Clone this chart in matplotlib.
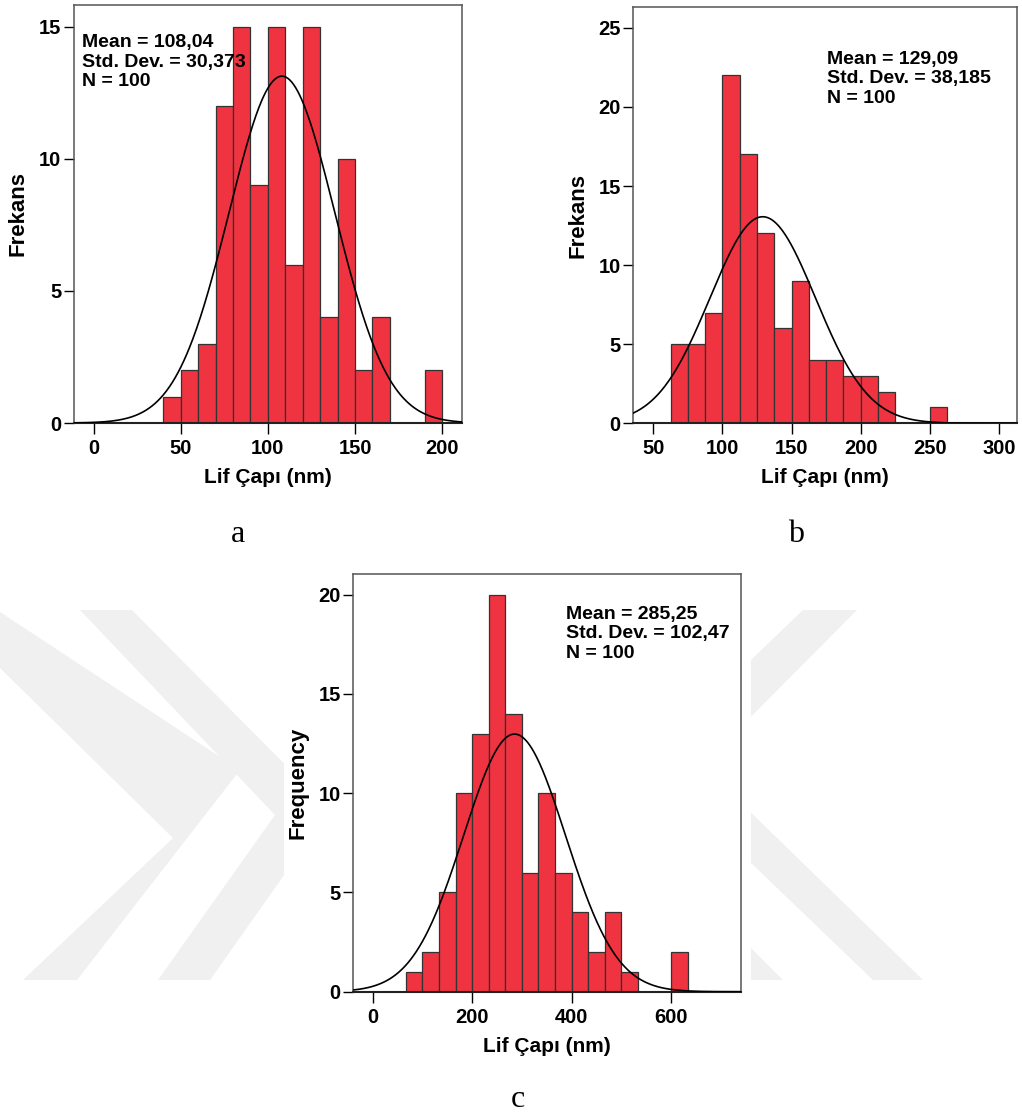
import numpy as np
import matplotlib
matplotlib.use("Agg")
import matplotlib.pyplot as plt
from matplotlib.patches import Polygon, Rectangle

plt.rcParams['font.family'] = ['Liberation Sans', 'DejaVu Sans']
plt.rcParams['font.weight'] = 'bold'

N_FIBERS = 100

# panel a: fiber diameter histogram
a_start, a_width = 40, 10
a_counts = [1, 2, 3, 12, 15, 9, 15, 6, 15, 4, 10, 2, 4, 0, 0, 2]
a_mean, a_std = 108.04, 30.373

# panel b
b_start, b_width = 62.5, 12.5
b_counts = [5, 5, 7, 22, 17, 12, 6, 9, 4, 4, 3, 3, 2, 0, 0, 1]
b_mean, b_std = 129.09, 38.185

# panel c
c_start, c_width = 200 / 3, 100 / 3
c_counts = [1, 2, 5, 10, 13, 20, 14, 6, 10, 6, 4, 2, 4, 1, 0, 0, 2]
c_mean, c_std = 285.25, 102.47

W, H = 1022, 1113
fig = plt.figure(figsize=(W / 100, H / 100), dpi=100)

# faint background watermark (pixel coordinates, y down)
bg = fig.add_axes([0, 0, 1, 1], zorder=-5)
bg.set_xlim(0, W)
bg.set_ylim(H, 0)
bg.axis('off')
wm = '#f0f0f0'
shapes = [
    [(0, 612), (240, 770), (77, 980), (23, 980), (173, 838), (0, 668)],
    [(80, 610), (132, 610), (330, 810), (210, 980), (158, 980), (275, 815)],
    [(803, 610), (857, 610), (700, 768), (700, 709)],
    [(700, 763), (923, 980), (873, 980), (700, 814)],
    [(700, 897), (783, 980), (700, 980)],
]
for pts in shapes:
    bg.add_patch(Polygon(pts, closed=True, color=wm, lw=0))
bg.add_patch(Rectangle((284, 560), 751 - 284, 520, color='white', lw=0))


def px_axes(left, top, right, bottom):
    return fig.add_axes([left / W, 1 - bottom / H, (right - left) / W, (bottom - top) / H])


def histogram(ax, start, width, counts, mean, std, xlim, ylim, xticks, yticks, ylabel, txt_pos):
    counts = np.array(counts)
    lefts = start + width * np.arange(len(counts))
    ax.bar(lefts, counts, width=width, align='edge', color='#ef3340',
           edgecolor='#333333', linewidth=0.9, zorder=2)
    x = np.linspace(xlim[0], xlim[1], 400)
    pdf = np.exp(-0.5 * ((x - mean) / std) ** 2) / (std * np.sqrt(2 * np.pi))
    ax.plot(x, N_FIBERS * width * pdf, color='black', lw=1.2, zorder=3)

    ax.set_xlim(*xlim)
    ax.set_ylim(*ylim)
    ax.set_xticks(xticks)
    ax.set_yticks(yticks)
    ax.tick_params(axis='x', direction='out', length=8, width=1, pad=3.5, labelsize=14.5)
    ax.tick_params(axis='y', direction='out', length=7.5, width=1, pad=1.5, labelsize=14.5)
    for lab in ax.get_xticklabels() + ax.get_yticklabels():
        lab.set_fontweight('bold')
    for side in ['left', 'right', 'top']:
        ax.spines[side].set_color('#555555')
        ax.spines[side].set_linewidth(1.1)
    ax.spines['bottom'].set_color('#222222')
    ax.spines['bottom'].set_linewidth(1.5)

    ax.set_xlabel('Lif Çapı (nm)', fontsize=15, fontweight='bold', va='center')
    ax.xaxis.set_label_coords(0.5, -0.131)
    ax.set_ylabel(ylabel, fontsize=16, fontweight='bold', va='center')
    ax.yaxis.set_label_coords(-0.144, 0.5)

    stats = 'Mean = {}\nStd. Dev. = {}\nN = {}'.format(
        txt_pos[2], txt_pos[3], N_FIBERS)
    ax.text(txt_pos[0], txt_pos[1], stats, transform=ax.transAxes, fontsize=14,
            fontweight='bold', va='top', ha='left', linespacing=1.2, zorder=4)


ax_a = px_axes(74, 5, 462, 423)
histogram(ax_a, a_start, a_width, a_counts, a_mean, a_std,
          (-11.3, 211.4), (0, 15.83), [0, 50, 100, 150, 200], [0, 5, 10, 15],
          'Frekans', (0.0198, 0.930, '108,04', '30,373'))

ax_b = px_axes(633.3, 7.3, 1017.3, 423.3)
histogram(ax_b, b_start, b_width, b_counts, b_mean, b_std,
          (35.5, 313.2), (0, 26.3), [50, 100, 150, 200, 250, 300], [0, 5, 10, 15, 20, 25],
          'Frekans', (0.5036, 0.8957, '129,09', '38,185'))

ax_c = px_axes(353.3, 574, 740.7, 991.7)
histogram(ax_c, c_start, c_width, c_counts, c_mean, c_std,
          (-39, 740), (0, 21.04), [0, 200, 400, 600], [0, 5, 10, 15, 20],
          'Frequency', (0.549, 0.924, '285,25', '102,47'))

# panel letters
for letter, (px, py) in zip('abc', [(238, 541.7), (796, 541.7), (518, 1106.7)]):
    fig.text(px / W, 1 - py / H, letter, fontsize=23, fontweight='normal',
             family=['Liberation Serif', 'DejaVu Serif'], ha='center', va='baseline')

fig.savefig('out.png', dpi=100)
